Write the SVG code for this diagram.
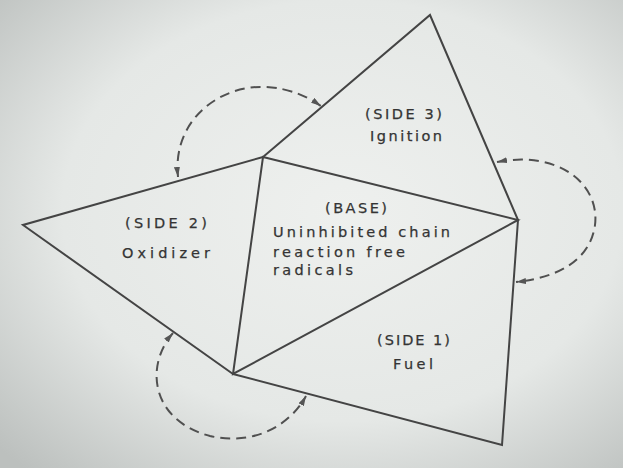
<svg xmlns="http://www.w3.org/2000/svg" width="623" height="468" viewBox="0 0 623 468">
  <defs>
    <radialGradient id="paper" cx="55%" cy="45%" r="75%">
      <stop offset="0" stop-color="#eef0ee"/>
      <stop offset="0.6" stop-color="#e5e8e6"/>
      <stop offset="1" stop-color="#bcc0be"/>
    </radialGradient>
    <marker id="arr" viewBox="0 0 10 6" refX="10" refY="3" markerWidth="10" markerHeight="6" markerUnits="userSpaceOnUse" orient="auto-start-reverse">
      <path d="M0,0 L10,3 L0,6 Z" fill="#555"/>
    </marker>
    <style>
      .edge { stroke: #444; stroke-width: 2; fill: none; stroke-linecap: round; }
      .dash { stroke: #505050; stroke-width: 2; fill: none; stroke-dasharray: 10 6; marker-start: url(#arr); marker-end: url(#arr); }
      .lbl { font-family: "DejaVu Sans", "Liberation Sans", sans-serif; font-size: 14.5px; fill: #343434; stroke: #343434; stroke-width: 0.25; }
    </style>
  </defs>
  <rect width="623" height="468" fill="url(#paper)"/>

  <g id="connectors">
    <path class="dash" d="M178,177 C 172,120 220,85 265,87 C 290,88 308,97 321,106"/>
    <path class="dash" d="M497,162 C 560,150 600,185 595,225 C 590,262 555,278 516,282"/>
    <path class="dash" d="M173,333 C 145,365 150,420 210,436 C 255,446 290,425 306,396"/>
  </g>

  <g id="side3">
    <path class="edge" d="M263,157 L430,15 L518,220"/>
    <text class="lbl" x="365" y="119" textLength="77" lengthAdjust="spacing">(SIDE 3)</text>
    <text class="lbl" x="370" y="141" textLength="72" lengthAdjust="spacing">Ignition</text>
  </g>

  <g id="side2">
    <path class="edge" d="M263,157 L23,225 L233,374"/>
    <text class="lbl" x="125" y="228" textLength="82" lengthAdjust="spacing">(SIDE 2)</text>
    <text class="lbl" x="122" y="258" textLength="88" lengthAdjust="spacing">Oxidizer</text>
  </g>

  <g id="base">
    <path class="edge" d="M263,157 L518,220 L233,374 Z"/>
    <text class="lbl" x="325" y="213" textLength="62" lengthAdjust="spacing">(BASE)</text>
    <text class="lbl" x="273" y="237" textLength="177" lengthAdjust="spacing">Uninhibited chain</text>
    <text class="lbl" x="273" y="257" textLength="132" lengthAdjust="spacing">reaction free</text>
    <text class="lbl" x="273" y="275" textLength="80" lengthAdjust="spacing">radicals</text>
  </g>

  <g id="side1">
    <path class="edge" d="M233,374 L502,445 L518,220"/>
    <text class="lbl" x="377" y="345" textLength="73" lengthAdjust="spacing">(SIDE 1)</text>
    <text class="lbl" x="393" y="369" textLength="40" lengthAdjust="spacing">Fuel</text>
  </g>
</svg>
